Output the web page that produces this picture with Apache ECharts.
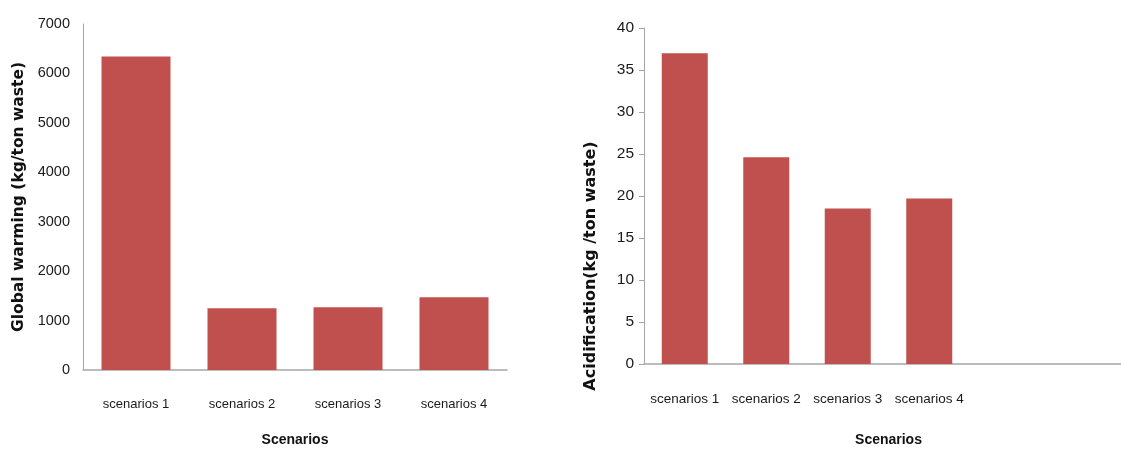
<!DOCTYPE html>
<html>
<head>
<meta charset="utf-8">
<script src="https://cdn.jsdelivr.net/npm/echarts@6/dist/echarts.min.js"></script>
<style>
  html, body { margin: 0; padding: 0; background: #fff; overflow: hidden; }
  /* the right plot runs a little past the edge of the picture */
  #chart { width: 1133px; height: 452px; }
</style>
</head>
<body>
<div id="chart"></div>
<script>
// data
var scenarios = ['scenarios 1', 'scenarios 2', 'scenarios 3', 'scenarios 4'];
var acidCats = ['scenarios 1', 'scenarios 2', 'scenarios 3', 'scenarios 4', '', ''];
var globalWarming = [6340, 1250, 1270, 1470];
var acidification = [37.0, 24.6, 18.5, 19.7];

var plain = '"Liberation Sans", Arial, sans-serif';
var bold = '"DejaVu Sans", sans-serif';
var barColor = '#C0504D';
var lineColor = '#a6a6a6';

var chart = echarts.init(document.getElementById('chart'));
chart.setOption({
  animation: false,
  grid: [
    { left: 83, top: 24, width: 424, bottom: 80 },
    { left: 644, top: 28, right: 0, bottom: 88 }
  ],
  xAxis: [
    {
      gridIndex: 0,
      type: 'category',
      data: scenarios,
      axisLine: { lineStyle: { color: lineColor, width: 1.5 } },
      axisTick: { show: false },
      axisLabel: { color: '#1a1a1a', fontFamily: plain, fontSize: 13, margin: 28, interval: 0 },
      name: 'Scenarios',
      nameLocation: 'middle',
      nameGap: 63,
      nameTextStyle: { color: '#111', fontFamily: plain, fontWeight: 'bold', fontSize: 14 }
    },
    {
      gridIndex: 1,
      type: 'category',
      data: acidCats,
      axisLine: { lineStyle: { color: lineColor, width: 1.5 } },
      axisTick: { show: false },
      axisLabel: { color: '#1a1a1a', fontFamily: plain, fontSize: 13.5, margin: 28, interval: 0 },
      name: 'Scenarios',
      nameLocation: 'middle',
      nameGap: 69,
      nameTextStyle: { color: '#111', fontFamily: plain, fontWeight: 'bold', fontSize: 14 }
    }
  ],
  yAxis: [
    {
      gridIndex: 0,
      type: 'value',
      min: 0,
      max: 7000,
      interval: 1000,
      splitLine: { show: false },
      axisLine: { show: true, lineStyle: { color: lineColor, width: 1 } },
      axisTick: { show: false },
      axisLabel: { color: '#1a1a1a', fontFamily: plain, fontSize: 14.5, margin: 13, formatter: function (v) { return String(v); } },
      name: 'Global warming (kg/ton waste)',
      nameLocation: 'middle',
      nameGap: 56,
      nameTextStyle: { color: '#111', fontFamily: bold, fontWeight: 'bold', fontSize: 15.5 }
    },
    {
      gridIndex: 1,
      type: 'value',
      min: 0,
      max: 40,
      interval: 5,
      splitLine: { show: false },
      axisLine: { show: true, lineStyle: { color: lineColor, width: 1 } },
      axisTick: { show: true, length: 5, lineStyle: { color: lineColor } },
      axisLabel: { color: '#1a1a1a', fontFamily: plain, fontSize: 15.5, margin: 10 },
      name: 'Acidification(kg /ton waste)',
      nameLocation: 'middle',
      nameGap: 45,
      nameTextStyle: { color: '#111', fontFamily: bold, fontWeight: 'bold', fontSize: 16, padding: [0, 140, 0, 0] }
    }
  ],
  series: [
    {
      type: 'bar',
      xAxisIndex: 0,
      yAxisIndex: 0,
      data: globalWarming,
      barWidth: 69,
      itemStyle: { color: barColor }
    },
    {
      type: 'bar',
      xAxisIndex: 1,
      yAxisIndex: 1,
      data: acidification,
      barWidth: 46,
      itemStyle: { color: barColor }
    }
  ]
});
</script>
</body>
</html>
